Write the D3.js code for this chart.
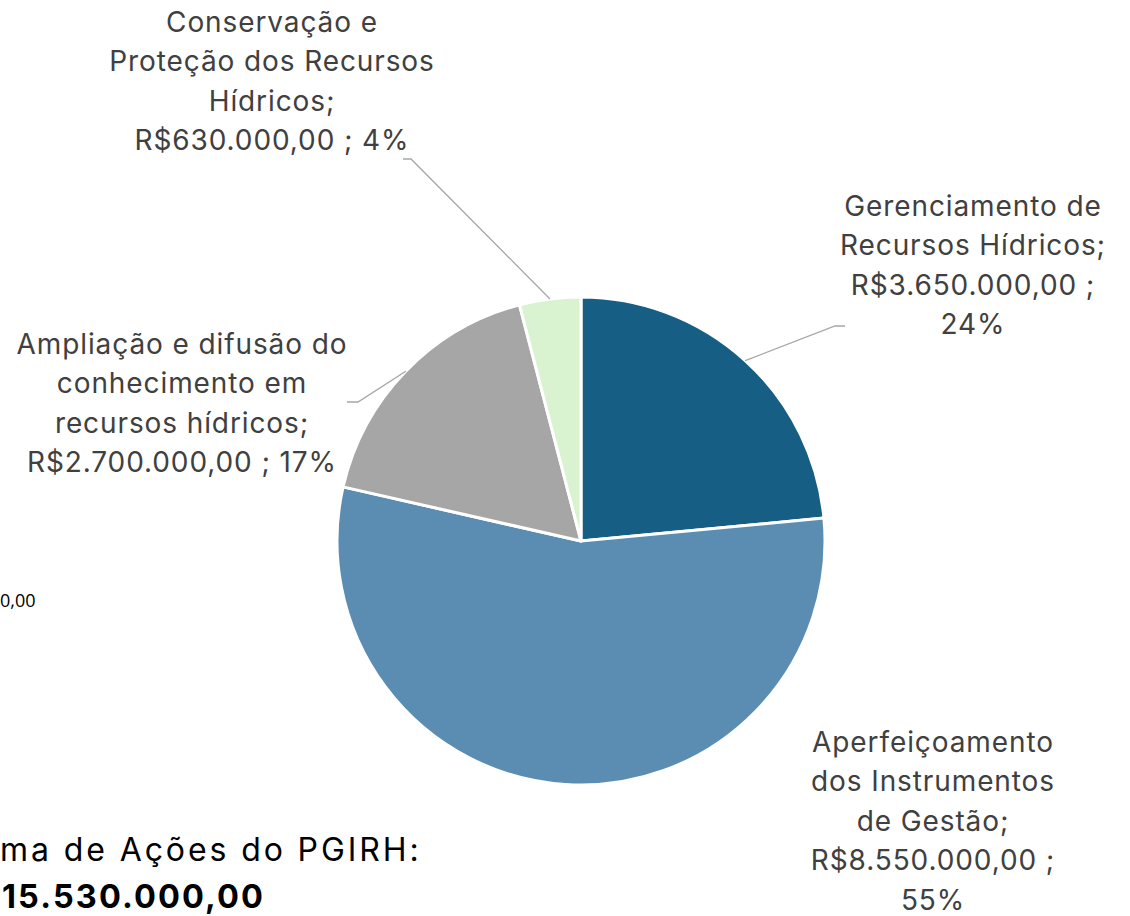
<!DOCTYPE html>
<html>
<head>
<meta charset="utf-8">
<script src="https://cdn.jsdelivr.net/npm/d3@7"></script>
<style>
  body { margin: 0; background: #fff; }
  svg { display: block; }
</style>
</head>
<body>
<div id="chart"></div>
<script>
// data
var categories = ["Gerenciamento de Recursos Hídricos", "Aperfeiçoamento dos Instrumentos de Gestão",
                  "Ampliação e difusão do conhecimento em recursos hídricos", "Conservação e Proteção dos Recursos Hídricos"];
var values = [3650000, 8550000, 2700000, 630000];
var labelLines = [
  ["Gerenciamento de", "Recursos Hídricos;", "R$3.650.000,00 ;", "24%"],
  ["Aperfeiçoamento", "dos Instrumentos", "de Gestão;", "R$8.550.000,00 ;", "55%"],
  ["Ampliação e difusão do", "conhecimento em", "recursos hídricos;", "R$2.700.000,00 ; 17%"],
  ["Conservação e", "Proteção dos Recursos", "Hídricos;", "R$630.000,00 ; 4%"]
];
var colors = ["#165e83", "#5b8db3", "#a6a6a6", "#d9f2d0"];

var width = 1130, height = 916;
var cx = 581, cy = 541, r = 244;

// label layout: center x, first line y, leader elbow/end
var labelPos = [
  {x: 973, y: 206, elbow: [835, 326], end: [845, 326]},
  {x: 933, y: 742, elbow: null, end: null},
  {x: 182, y: 344, elbow: [358, 402], end: [347, 402]},
  {x: 272, y: 22, elbow: [411, 159], end: [403, 159]}
];
var lineH = 39.5;
var font = "Inter, 'Noto Sans', sans-serif";

var svg = d3.select("#chart").append("svg")
    .attr("width", width)
    .attr("height", height);

var pie = d3.pie().sort(null).value(function(d) { return d; });
var arcs = pie(values);
var arc = d3.arc().innerRadius(0).outerRadius(r);

var g = svg.append("g").attr("transform", "translate(" + cx + "," + cy + ")");

g.selectAll("path.slice")
    .data(arcs)
  .enter().append("path")
    .attr("class", "slice")
    .attr("d", arc)
    .attr("fill", function(d, i) { return colors[i]; })
    .attr("stroke", "#fff")
    .attr("stroke-width", 3)
    .attr("stroke-linejoin", "round");

// leader lines
arcs.forEach(function(d, i) {
  var p = labelPos[i];
  if (!p.elbow) return;
  var a = (d.startAngle + d.endAngle) / 2;
  var sx = cx + r * Math.sin(a), sy = cy - r * Math.cos(a);
  svg.append("polyline")
      .attr("points", [[sx, sy], p.elbow, p.end].map(function(q) { return q.join(","); }).join(" "))
      .attr("fill", "none")
      .attr("stroke", "#a6a6a6")
      .attr("stroke-width", 1.3);
});

// labels
labelLines.forEach(function(lines, i) {
  var p = labelPos[i];
  var t = svg.append("text")
      .attr("text-anchor", "middle")
      .attr("font-family", font)
      .attr("font-size", 28)
      .attr("letter-spacing", 0.9)
      .attr("fill", "#404040");
  lines.forEach(function(s, k) {
    t.append("tspan")
        .attr("x", p.x)
        .attr("y", p.y + k * lineH)
        .attr("dy", "0.35em")
        .text(s);
  });
});

// clipped text from surrounding slide
svg.append("text")
    .attr("x", 0).attr("y", 607)
    .attr("font-family", "'Open Sans', sans-serif")
    .attr("font-size", 18)
    .attr("fill", "#000")
    .text("0,00");

svg.append("text")
    .attr("x", 0).attr("y", 861)
    .attr("font-family", font)
    .attr("font-size", 32)
    .attr("letter-spacing", 2.9)
    .attr("fill", "#000")
    .text("ma de Ações do PGIRH:");

svg.append("text")
    .attr("x", 2).attr("y", 908)
    .attr("font-family", font)
    .attr("font-size", 32.5)
    .attr("font-weight", "bold")
    .attr("letter-spacing", 2.1)
    .attr("fill", "#000")
    .text("15.530.000,00");
</script>
</body>
</html>
